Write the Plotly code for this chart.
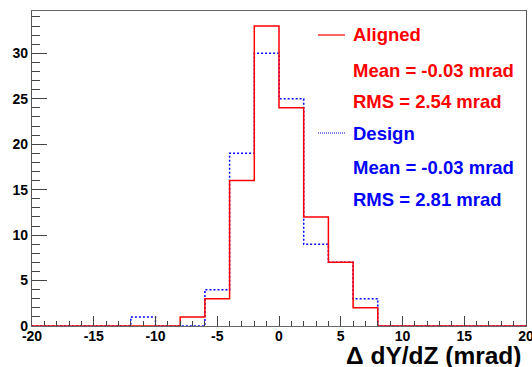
import plotly.graph_objects as go

# Data: bin edges every 2 mrad from -20 to 20
bin_edges = list(range(-20, 21, 2))
aligned_counts = [0, 0, 0, 0, 0, 0, 1, 3, 16, 33, 24, 12, 7, 2, 0, 0, 0, 0, 0, 0]
design_counts = [0, 0, 0, 0, 1, 0, 0, 4, 19, 30, 25, 9, 7, 3, 0, 0, 0, 0, 0, 0]

series_names = ["Aligned", "Design"]
series_means = [-0.03, -0.03]
series_rms = [2.54, 2.81]
series_colors = ["#ff0000", "#0000ff"]

x_tick_vals = [-20, -15, -10, -5, 0, 5, 10, 15, 20]
x_tick_text = ["-20", "-15", "-10", "-5", "0", "5", "10", "15", "20"]
y_tick_vals = [0, 5, 10, 15, 20, 25, 30]
y_tick_text = ["0", "5", "10", "15", "20", "25", "30"]

W, H = 532, 367
L, R, T, B = 32, 526, 11, 326  # plot area in pixels


def px(x):
    return (x - L) / (R - L)


def py(y):
    return (B - y) / (B - T)


fig = go.Figure()

# draw the design first so the aligned histogram sits on top
for counts, color, dash, width in [(design_counts, series_colors[1], "2px,2px", 1.5),
                                   (aligned_counts, series_colors[0], "solid", 1.5)]:
    fig.add_trace(go.Scatter(
        x=bin_edges,
        y=counts + [counts[-1]],
        mode="lines",
        line=dict(shape="hv", color=color, dash=dash, width=width),
        showlegend=False,
        hoverinfo="skip",
    ))

font = "Liberation Sans, Arial, sans-serif"

# legend-like text block
text_x = px(351)
rows = [35, 70, 102, 133, 167, 199]
annots = []
shapes = []
for i, name in enumerate(series_names):
    c = series_colors[i]
    y0 = rows[3 * i]
    annots.append(dict(x=text_x, y=py(y0), text=name))
    annots.append(dict(x=text_x, y=py(rows[3 * i + 1]),
                       text="Mean = %.2f mrad" % series_means[i]))
    annots.append(dict(x=text_x, y=py(rows[3 * i + 2]),
                       text="RMS = %.2f mrad" % series_rms[i]))
    for a in annots[-3:]:
        a.update(xref="paper", yref="paper", xanchor="left", yanchor="middle",
                 showarrow=False,
                 font=dict(family=font, size=18.5, color=c, weight="bold"))
    shapes.append(dict(type="line", xref="paper", yref="paper",
                       x0=px(318), x1=px(345), y0=py(y0), y1=py(y0),
                       line=dict(color=c, width=1.2,
                                 dash="solid" if i == 0 else "1px,1px")))

# x-axis title, right aligned below the axis
annots.append(dict(xref="paper", yref="paper", x=px(524), y=py(355),
                   xanchor="right", yanchor="middle", showarrow=False,
                   text="<b>Δ dY/dZ (mrad)</b>",
                   font=dict(family=font, size=24.5, color="black")))

fig.update_layout(
    width=W, height=H,
    margin=dict(l=L, r=W - R, t=T, b=H - B),
    paper_bgcolor="white", plot_bgcolor="white",
    annotations=annots, shapes=shapes,
    font=dict(family=font, color="black"),
)

fig.update_xaxes(
    range=[-20, 20], tickmode="array", tickvals=x_tick_vals,
    ticktext=["<b>%s</b>" % t for t in x_tick_text],
    automargin=False, ticklabeloverflow="allow", ticklabelstandoff=-3,
    ticks="inside", ticklen=10, tickcolor="#444", tickwidth=1,
    minor=dict(ticks="inside", ticklen=5, tickmode="linear", tick0=0, dtick=1,
               tickcolor="#444"),
    showgrid=False, zeroline=False,
    showline=True, linecolor="#666", linewidth=1.2, mirror=True,
    tickfont=dict(family=font, size=14, color="black", weight="bold"),
)
fig.update_yaxes(
    range=[0, 34.65], tickmode="array", tickvals=y_tick_vals,
    ticktext=["<b>%s</b>" % t for t in y_tick_text], automargin=False,
    ticks="inside", ticklen=15, tickcolor="#444", tickwidth=1,
    minor=dict(ticks="inside", ticklen=8, tickmode="linear", tick0=0, dtick=1,
               tickcolor="#444"),
    showgrid=False, zeroline=False,
    showline=True, linecolor="#555", linewidth=1.2, mirror=True,
    tickfont=dict(family=font, size=14, color="black", weight="bold"),
)

# remove the default page margin so the figure fills the window
fig.write_html("out.html", config={"displayModeBar": False},
               post_script="document.body.style.margin='0';")
